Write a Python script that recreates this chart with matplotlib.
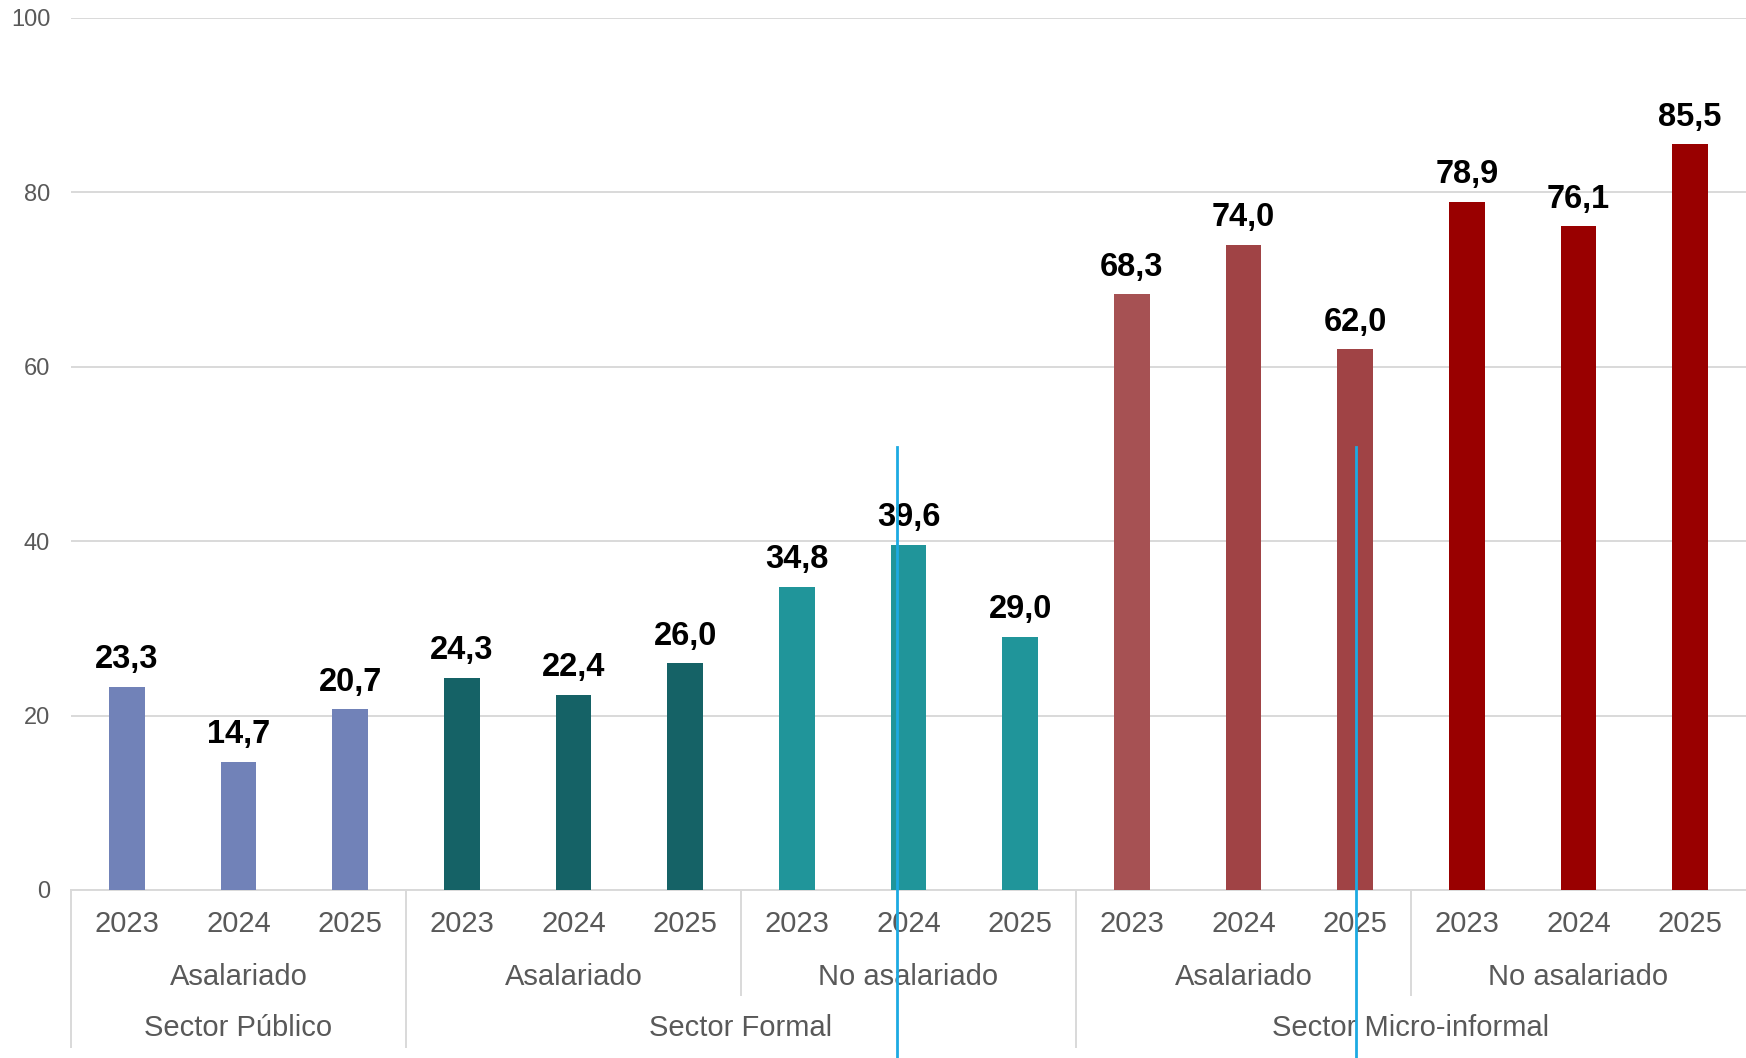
import numpy as np
import matplotlib
matplotlib.use("Agg")
import matplotlib.pyplot as plt
import matplotlib.transforms as mtransforms

plt.rcParams['font.family'] = ['Liberation Sans', 'DejaVu Sans']

# datos
years = ['2023', '2024', '2025'] * 5
values = [23.3, 14.7, 20.7,
          24.3, 22.4, 26.0,
          34.8, 39.6, 29.0,
          68.3, 74.0, 62.0,
          78.9, 76.1, 85.5]
subgroups = ['Asalariado', 'Asalariado', 'No asalariado', 'Asalariado', 'No asalariado']
groups = ['Sector Público', 'Sector Formal', 'Sector Micro-informal']
group_size = [3, 6, 6]  # barras por sector
colors = ['#7182B8'] * 3 + ['#156266'] * 3 + ['#20959A'] * 3 + \
         ['#A65153', '#A04345', '#A04345'] + ['#990000'] * 3

gris = '#595959'
linea = '#D9D9D9'

fig = plt.figure(figsize=(17.46, 10.58), dpi=100)
ax = fig.add_axes([0.0407, 0.1588, 0.9593, 0.8242])

x = np.arange(len(values))
ax.bar(x, values, width=0.32, color=colors, zorder=3)
ax.set_xlim(-0.5, len(values) - 0.5)
ax.set_ylim(0, 100)
ax.set_yticks(range(0, 101, 20))
ax.grid(axis='y', color=linea, lw=1.4, zorder=0)
ax.tick_params(axis='y', length=0, pad=15, labelsize=17, labelcolor=gris)
ax.set_xticks([])
for s in ['top', 'right', 'left']:
    ax.spines[s].set_visible(False)
ax.spines['bottom'].set_color(linea)
ax.spines['bottom'].set_linewidth(1.4)

# etiquetas de datos
for xi, v in zip(x, values):
    ax.annotate(f'{v:.1f}'.replace('.', ','), (xi, v), xytext=(0, 13.5),
                textcoords='offset points', ha='center', va='baseline',
                fontsize=23.5, fontweight='bold', color='black')

# eje de categorias multinivel
for xi, yr in zip(x, years):
    ax.annotate(yr, (xi, 0), xycoords=('data', 'axes fraction'), xytext=(0, -24.5),
                textcoords='offset points', ha='center', va='center',
                fontsize=21, color=gris)
for k, lab in enumerate(subgroups):
    ax.annotate(lab, (3 * k + 1, 0), xycoords=('data', 'axes fraction'), xytext=(0, -62.6),
                textcoords='offset points', ha='center', va='center',
                fontsize=21, color=gris)
start = 0
bounds = [0]
for lab, n in zip(groups, group_size):
    ax.annotate(lab, (start + (n - 1) / 2, 0), xycoords=('data', 'axes fraction'),
                xytext=(0, -99.4), textcoords='offset points', ha='center', va='center',
                fontsize=21, color=gris)
    start += n
    bounds.append(start)

trans = mtransforms.blended_transform_factory(ax.transData, ax.transAxes)
for b in range(0, len(values), 3):
    y_end = -0.18 if b in bounds else -0.1204
    ax.plot([b - 0.5, b - 0.5], [0, y_end], color=linea, lw=1.4,
            transform=trans, clip_on=False)

# lineas azules
for xb in [6.9, 11.01]:
    ax.plot([xb, xb], [0.508, -0.2], color='#1DAAE2', lw=2,
            transform=trans, clip_on=False, zorder=5)

fig.savefig('out.png', dpi=100)
